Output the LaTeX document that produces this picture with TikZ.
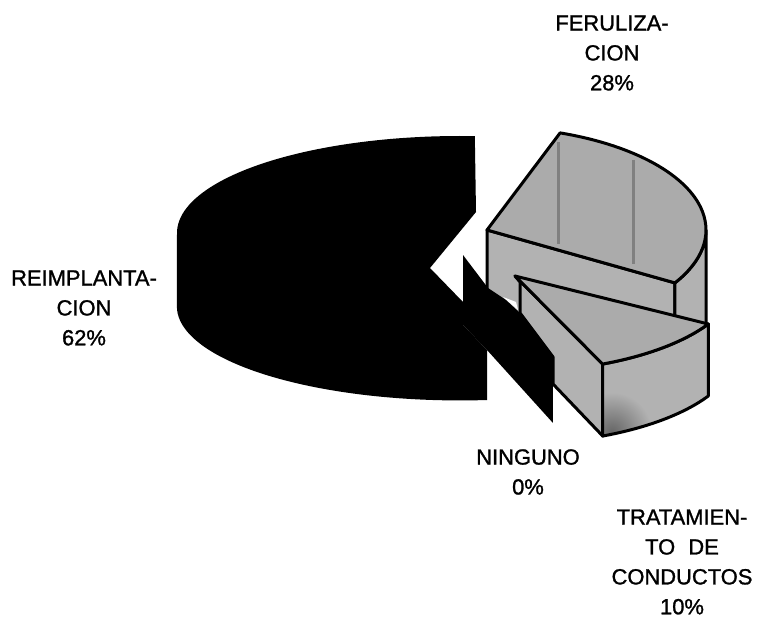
\documentclass[tikz,border=0pt]{standalone}
\usepackage{fontspec}
\setmainfont{Liberation Sans}
\newfontfamily\lblfont{Liberation Sans}[FakeBold=1.2]
\begin{document}
\begin{tikzpicture}[x=1bp,y=-1bp,
  outl/.style={draw=black,line width=3bp,line join=round},
  face/.style={fill=black!30},
  topface/.style={fill=black!33},
  streak/.style={draw=black!50,line width=3bp},
  lbl/.style={align=center,inner sep=0pt,font=\lblfont\fontsize{22}{30}\selectfont}]
\useasboundingbox (0,0) rectangle (763,622);
\fill[white] (0,0) rectangle (763,622);
% REIMPLANTACION (black slice)
\fill[black] (476,212) -- (430,268) -- (463,302) -- (463,325) -- (487,350) -- (487,400)
  arc[start angle=84.5,end angle=180,x radius=283,y radius=94] -- (177,233)
  arc[start angle=180,end angle=273,x radius=283,y radius=97] -- cycle;
% FERULIZACION slice
\path[face,outl] (487,230) -- (674.9,282.9) -- (674.9,377.9) -- (487,325) -- cycle;
\path[face,outl] (706,230) arc[start angle=0,end angle=30.9,x radius=219,y radius=103]
  -- ++(0,95) arc[start angle=30.9,end angle=0,x radius=219,y radius=103] -- cycle;
\path[topface,outl] (487,230) -- (560.1,132.9)
  arc[start angle=-70.5,end angle=30.9,x radius=219,y radius=103] -- cycle;
\draw[streak] (558,142) -- (558,244);
\draw[streak] (633,160) -- (633,264);
% NINGUNO (flat black wall)
\fill[black] (463,255) -- (488,288) -- (506,300) -- (520,313) -- (553,357) -- (553,423) -- (487,350) -- (463,325) -- cycle;
\fill[white] (503,297) -- (516,302) -- (518,310) -- cycle;
% TRATAMIENTO slice
\fill[white] (553,384) -- (602.8,436.1) -- (602.8,445) -- (553,445) -- cycle;
\path[face,outl] (515,276) -- (602.8,364.1) -- (602.8,436.1) -- (553,384) -- (553,357) -- (520,313) -- (520,282) -- cycle;
\path[face] (708.3,324) arc[start angle=29.7,end angle=66.5,x radius=225,y radius=95]
  -- ++(0,72) arc[start angle=66.5,end angle=29.7,x radius=225,y radius=95] -- cycle;
\begin{scope}
  \clip (708.3,324) arc[start angle=29.7,end angle=66.5,x radius=225,y radius=95]
    -- ++(0,72) arc[start angle=66.5,end angle=29.7,x radius=225,y radius=95] -- cycle;
  \shade[inner color=black!60,outer color=black!30] (612,432) circle (40);
\end{scope}
\path[outl] (708.3,324) arc[start angle=29.7,end angle=66.5,x radius=225,y radius=95]
  -- ++(0,72) arc[start angle=66.5,end angle=29.7,x radius=225,y radius=95] -- cycle;
\path[topface,outl] (515,276) -- (708.3,324)
  arc[start angle=29.7,end angle=66.5,x radius=225,y radius=95] -- cycle;
% labels
\node[lbl] (fer) at (612,53) {FERULIZA-\\CION\\28\%};
\node[lbl] (rei) at (84,308) {REIMPLANTA-\\CION\\62\%};
\node[lbl] (nin) at (528,472) {NINGUNO\\0\%};
\node[lbl] (tra) at (682,562) {TRATAMIEN-\\TO\hspace{0.6em}DE\\CONDUCTOS\\10\%};
\end{tikzpicture}
\end{document}
